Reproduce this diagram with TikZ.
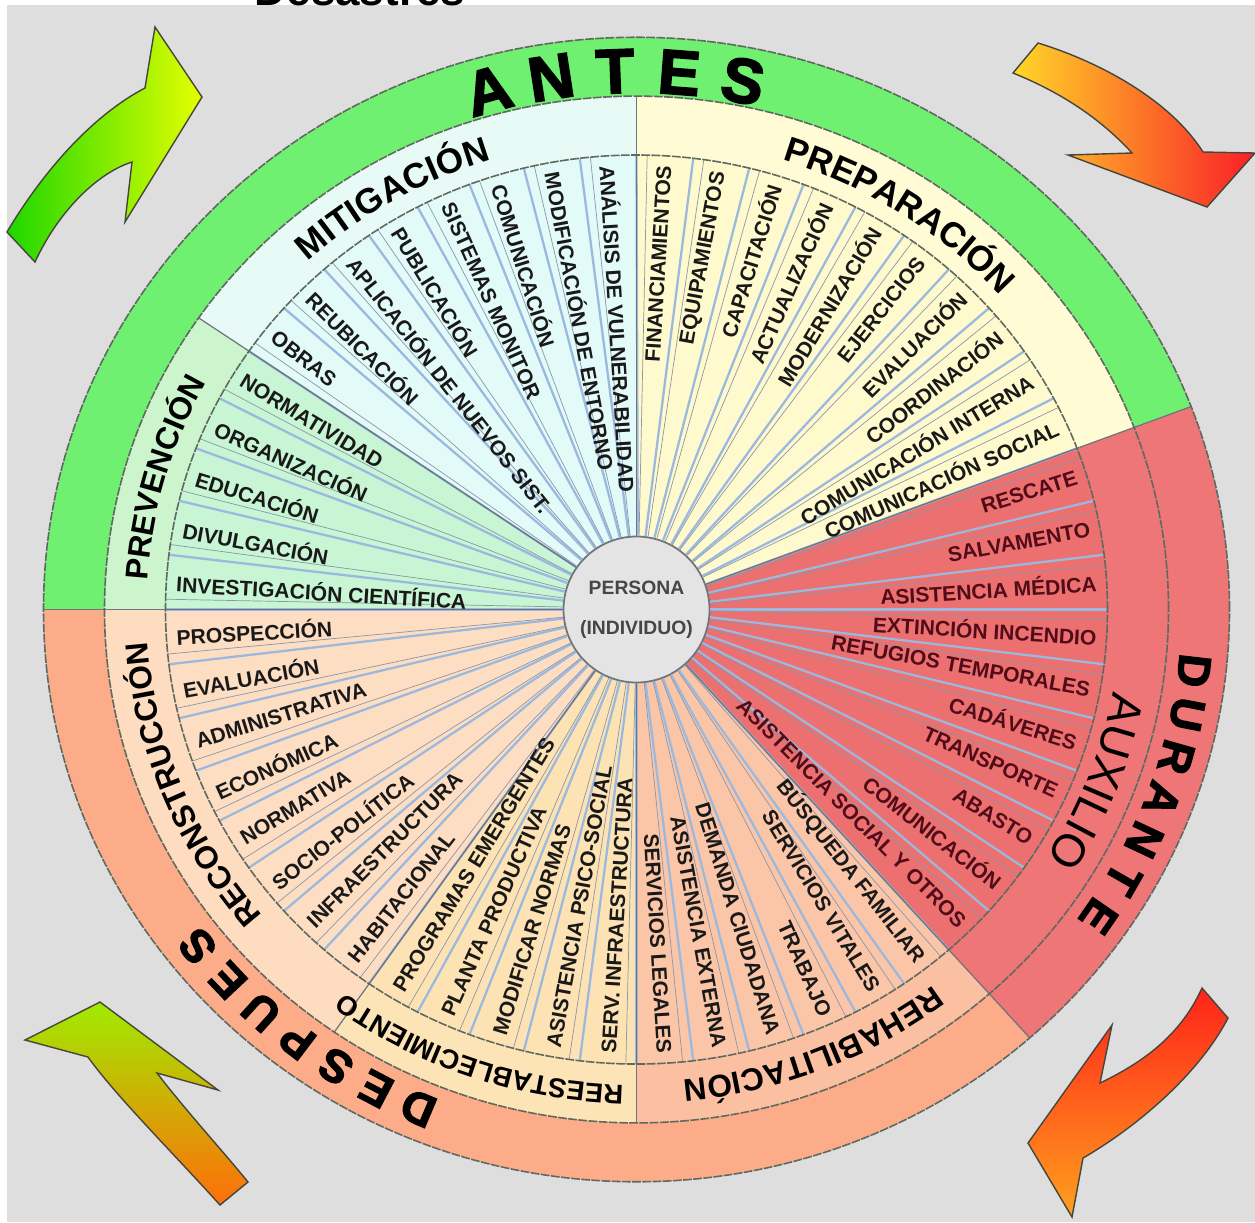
\documentclass[tikz,border=0pt]{standalone}
\usepackage{fontspec}
\setmainfont{Liberation Sans}
\newfontfamily\heavyfont[FakeBold=2.5]{Liberation Sans}
\usetikzlibrary{decorations.text}

\definecolor{bggray}{RGB}{222,222,222}
\definecolor{ringgray}{RGB}{95,105,95}
\definecolor{secgray}{RGB}{110,115,125}
\definecolor{spokeblue}{RGB}{155,185,222}
\definecolor{spokegray}{RGB}{140,150,168}
\definecolor{itemtxt}{RGB}{25,25,25}
\definecolor{auxtxt}{RGB}{80,12,25}
\definecolor{centerfill}{RGB}{228,228,228}
\definecolor{centertxt}{RGB}{70,70,70}
% anillo exterior
\definecolor{antesring}{RGB}{112,240,112}
\definecolor{duranring}{RGB}{238,118,118}
\definecolor{despring}{RGB}{252,172,136}
% bandas
\definecolor{prevband}{RGB}{205,245,205}
\definecolor{mitband}{RGB}{232,250,245}
\definecolor{prepband}{RGB}{255,251,212}
\definecolor{auxband}{RGB}{238,118,118}
\definecolor{rehaband}{RGB}{251,192,162}
\definecolor{restband}{RGB}{253,228,182}
\definecolor{recband}{RGB}{253,220,192}
% zonas de acciones
\definecolor{prevzone}{RGB}{200,245,212}
\definecolor{mitzone}{RGB}{226,250,248}
\definecolor{prepzone}{RGB}{255,250,206}
\definecolor{auxzone}{RGB}{236,112,112}
\definecolor{rehazone}{RGB}{251,198,168}
\definecolor{restzone}{RGB}{253,227,180}
\definecolor{reczone}{RGB}{253,222,194}
% flechas
\definecolor{arrowline}{RGB}{70,70,60}
\definecolor{tlA}{RGB}{30,215,0}
\definecolor{tlB}{RGB}{228,255,0}
\definecolor{trA}{RGB}{255,215,40}
\definecolor{trB}{RGB}{250,30,40}
\definecolor{brA}{RGB}{255,35,25}
\definecolor{brB}{RGB}{255,160,30}
\definecolor{blA}{RGB}{255,110,10}
\definecolor{blB}{RGB}{160,235,0}

\newcommand{\bandM}{\bfseries\fontsize{20}{20}\selectfont}
\newcommand{\bandS}{\bfseries\fontsize{18}{18}\selectfont}
\newcommand{\bandXS}{\bfseries\fontsize{15.5}{15.5}\selectfont}
\newcommand{\bandL}{\fontsize{26}{26}\selectfont}
% sector de corona: color, angulo1, angulo2, radio int, radio ext
\newcommand{\annul}[5]{%
  \fill[#1] (#2:#4) arc[start angle=#2, end angle=#3, radius=#4]
    -- (#3:#5) arc[start angle=#3, end angle=#2, radius=#5] -- cycle;}

\tikzset{%
ringline/.style={draw=ringgray, line width=0.9pt, dash pattern=on 5pt off 0.8pt},
spoke/.style={draw=spokeblue, line width=1.3pt},
spokethin/.style={draw=spokegray, line width=0.4pt},
secline/.style={draw=secgray, line width=0.7pt},
itemlbl/.style={font=\bfseries\fontsize{12}{12}\selectfont, inner sep=1pt},
bigletter/.style={font=\heavyfont\bfseries\fontsize{#1}{#1}\selectfont, inner sep=0pt},
bandlbl/.style 2 args={decorate, decoration={text along path, text align=center, text={|#1|#2}}},
arrowshape/.style={draw=arrowline, line width=0.8pt}
}

\begin{document}
\begin{tikzpicture}[x=0.2mm, y=0.2mm]
\useasboundingbox (0,0) rectangle (1255,-1222);
\fill[bggray] (7,-5) rectangle (1255,-1222);

% titulo cortado arriba
\begin{scope}
  \clip (0,0) rectangle (1255,-12);
  \node[font=\bfseries\fontsize{25}{25}\selectfont, anchor=base, inner sep=0pt] (titulo) at (360,-5) {Desastres};
\end{scope}

% flechas de las esquinas
\draw[arrowshape, left color=tlA, right color=tlB]
  (35,-262) -- (7,-232) .. controls (45,-168) and (95,-114) .. (145,-88)
  -- (155,-27) -- (202,-97) -- (125,-222) -- (132,-162)
  .. controls (100,-172) and (60,-208) .. (35,-262) -- cycle;
\draw[arrowshape, left color=trA, right color=trB]
  (1013,-73) -- (1038,-43) .. controls (1100,-62) and (1170,-100) .. (1203,-152)
  -- (1255,-153) -- (1207,-207) -- (1068,-155) -- (1132,-153)
  .. controls (1100,-118) and (1060,-92) .. (1013,-73) -- cycle;
\draw[arrowshape, top color=brA, bottom color=brB]
  (1202,-988) -- (1228,-1018) .. controls (1200,-1072) and (1140,-1125) .. (1083,-1158)
  -- (1072,-1217) -- (1028,-1143) -- (1112,-1025) -- (1100,-1083)
  .. controls (1148,-1060) and (1182,-1032) .. (1202,-988) -- cycle;
\draw[arrowshape, top color=blB, bottom color=blA]
  (248,-1182) -- (220,-1205) .. controls (175,-1155) and (115,-1095) .. (88,-1057)
  -- (25,-1040) -- (100,-1002) -- (218,-1090) -- (157,-1073)
  .. controls (187,-1112) and (222,-1150) .. (248,-1182) -- cycle;

% rueda
\begin{scope}[shift={(636.5,-609.5)}, yscale=0.965]
  % anillo exterior
  \annul{antesring}{20.769}{180}{532}{593}
  \annul{duranring}{-48.462}{20.769}{532}{593}
  \annul{despring}{-180}{-48.462}{532}{593}
  % bandas de etapas
  \annul{prevband}{145.385}{180}{471}{532}
  \annul{mitband}{90}{145.385}{471}{532}
  \annul{prepband}{20.769}{90}{471}{532}
  \annul{auxband}{-48.462}{20.769}{471}{532}
  \annul{rehaband}{-90}{-48.462}{471}{532}
  \annul{restband}{-124.615}{-90}{471}{532}
  \annul{recband}{-180}{-124.615}{471}{532}
  % zonas de acciones
  \annul{prevzone}{145.385}{180}{0.01}{471}
  \annul{mitzone}{90}{145.385}{0.01}{471}
  \annul{prepzone}{20.769}{90}{0.01}{471}
  \annul{auxzone}{-48.462}{20.769}{0.01}{471}
  \annul{rehazone}{-90}{-48.462}{0.01}{471}
  \annul{restzone}{-124.615}{-90}{0.01}{471}
  \annul{reczone}{-180}{-124.615}{0.01}{471}

  \node[circle, fill=centerfill, draw=secgray, line width=1pt, minimum size=29.2mm,
        align=center, text=centertxt, font=\bfseries\fontsize{11}{13}\selectfont] (persona) at (0,0)
        {PERSONA\\[3.4mm](INDIVIDUO)};

  % radios
  \foreach \j in {0,...,51}{
    \pgfmathsetmacro{\b}{180-\j*6.923077}
    \pgfmathsetmacro{\c}{\b-1.3}
    \draw[spoke] (persona.\b) -- (\b:471);
    \draw[spokethin] (persona.\c) -- (\c:471);
  }
  % limites de etapas
  \foreach \b in {180,145.385,90,20.769,-48.462,-90,-124.615}
    \draw[secline] (persona.\b) -- (\b:532);
  \foreach \b in {180,20.769,-48.462}
    \draw[secline] (\b:532) -- (\b:593);
  \draw[ringline] (0,0) circle[radius=471];
  \draw[ringline] (0,0) circle[radius=532];
  \draw[ringline] (0,0) circle[radius=593];

  % acciones
  \foreach \txt [count=\k] in {INVESTIGACIÓN CIENTÍFICA, DIVULGACIÓN, EDUCACIÓN, ORGANIZACIÓN, NORMATIVIDAD,
      OBRAS, REUBICACIÓN, APLICACIÓN DE NUEVOS SIST., PUBLICACIÓN, SISTEMAS MONITOR, COMUNICACIÓN,
      MODIFICACIÓN DE ENTORNO, ANÁLISIS DE VULNERABILIDAD,
      FINANCIAMIENTOS, EQUIPAMIENTOS, CAPACITACIÓN, ACTUALIZACIÓN, MODERNIZACIÓN, EJERCICIOS,
      EVALUACIÓN, COORDINACIÓN, COMUNICACIÓN INTERNA, COMUNICACIÓN SOCIAL,
      RESCATE, SALVAMENTO, ASISTENCIA MÉDICA, EXTINCIÓN INCENDIO, REFUGIOS TEMPORALES, CADÁVERES,
      TRANSPORTE, ABASTO, COMUNICACIÓN, ASISTENCIA SOCIAL Y OTROS,
      BÚSQUEDA FAMILIAR, SERVICIOS VITALES, TRABAJO, DEMANDA CIUDADANA, ASISTENCIA EXTERNA, SERVICIOS LEGALES,
      SERV. INFRAESTRUCTURA, ASISTENCIA PSICO-SOCIAL, MODIFICAR NORMAS, PLANTA PRODUCTIVA, PROGRAMAS EMERGENTES,
      HABITACIONAL, INFRAESTRUCTURA, SOCIO-POLÍTICA, NORMATIVA, ECONÓMICA, ADMINISTRATIVA, EVALUACIÓN, PROSPECCIÓN}{
    \pgfmathsetmacro{\a}{180-(\k-0.5)*6.923077}
    \pgfmathtruncatemacro{\isleft}{(\a>90)||(\a<-90)}
    \pgfmathtruncatemacro{\isaux}{(\k>23)&&(\k<34)}
    \ifnum\isaux=1 \def\tc{auxtxt}\else\def\tc{itemtxt}\fi
    \ifnum\isleft=1
      \node[itemlbl, text=\tc, rotate=\a+180, anchor=west] (it-\k) at (\a:463) {\txt};
    \else
      \node[itemlbl, text=\tc, rotate=\a, anchor=east] (it-\k) at (\a:463) {\txt};
    \fi
  }

  % nombres de etapas
  \path[bandlbl={\bandS}{PREVENCIÓN}] (194:490) arc[start angle=194, end angle=134, radius=490];
  \path[bandlbl={\bandM}{MITIGACIÓN}] (150:488) arc[start angle=150, end angle=90, radius=488];
  \path[bandlbl={\bandM}{PREPARACIÓN}] (90:488) arc[start angle=90, end angle=24, radius=488];
  \path[bandlbl={\bandL}{AUXILIO}] (9:484) arc[start angle=9, end angle=-51, radius=484];
  \path[bandlbl={\bandS}{REHABILITACIÓN}] (-38:490) arc[start angle=-38, end angle=-99, radius=490];
  \path[bandlbl={\bandXS}{REESTABLECIMIENTO}] (-80:493) arc[start angle=-80, end angle=-138, radius=493];
  \path[bandlbl={\bandS}{RECONSTRUCCIÓN}] (-126:490) arc[start angle=-126, end angle=-190, radius=490];

  % antes, durante, despues
  \foreach \ch [count=\i] in {A,N,T,E,S}{
    \pgfmathsetmacro{\p}{105.4-(\i-1)*6.6}
    \node[bigletter=36, rotate=\p-90] (antes-\i) at (\p:558) {\ch};
  }
  \foreach \ch [count=\i] in {D,U,R,A,N,T,E}{
    \pgfmathsetmacro{\p}{-6.5-(\i-1)*4.67}
    \node[bigletter=26, rotate=\p-90] (durante-\i) at (\p:561) {\ch};
  }
  \foreach \ch [count=\i] in {D,E,S,P,U,E,S}{
    \pgfmathsetmacro{\p}{-112.9-(\i-1)*4.77}
    \node[bigletter=26, rotate=\p-90] (despues-\i) at (\p:561) {\ch};
  }
\end{scope}
\end{tikzpicture}
\end{document}
